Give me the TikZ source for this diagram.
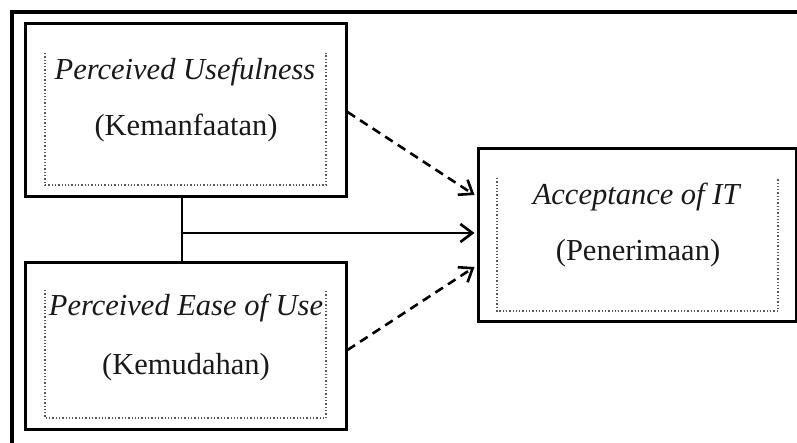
\documentclass[tikz,border=0pt]{standalone}
\usepackage{fontspec}
\setmainfont{Liberation Serif}
\usetikzlibrary{arrows.meta,calc}
\begin{document}
\begin{tikzpicture}[x=1pt,y=-1pt,
  box/.style={draw=black,line width=3pt,inner sep=0pt,anchor=center},
  inner/.style={draw=gray!70!black,dotted,line width=1.3pt},
  lbl/.style={inner sep=0pt,anchor=center,text=black!90,font=\fontsize{30.5}{36}\selectfont},
  conn/.style={line width=2.6pt},
  tip/.style={-{Straight Barb[length=12pt,width=18pt,line width=2.6pt]}},
  dsh/.style={dash pattern=on 9pt off 6pt}]
\useasboundingbox (0,0) rectangle (797,443);
% outer frame (top and left edges)
\draw[line width=3.2pt] (12,445) -- (12,12) -- (799,12);
% boxes
\node[box,minimum width=321pt,minimum height=173pt] (pu) at (185.5,110.5) {};
\node[box,minimum width=321pt,minimum height=166pt] (peou) at (185.5,346) {};
\node[box,minimum width=318pt,minimum height=172pt] (acc) at (637,235) {};
% inner dotted frames
\draw[inner] (45,53) -- (45,185) -- (326,185) -- (326,53);
\draw[inner] (45,290) -- (45,418) -- (326,418) -- (326,290);
\draw[inner] (497,178) -- (497,311) -- (778,311) -- (778,178);
% texts
\node[lbl] (puA) at (185,72) {\textit{Perceived Usefulness}};
\node[lbl] (puB) at (186,128) {(Kemanfaatan)};
\node[lbl] (peA) at (186,308) {\textit{Perceived Ease of Use}};
\node[lbl] (peB) at (186,367) {(Kemudahan)};
\node[lbl] (acA) at (637,197) {\textit{Acceptance of IT}};
\node[lbl] (acB) at (638,253) {(Penerimaan)};
% connectors
\coordinate (j) at (182,233);
\draw[conn] (pu.south -| j) -- (peou.north -| j);
\draw[conn,tip] (j) -- ([xshift=-2pt]acc.west |- j);
\draw[conn,dsh,tip] ([yshift=-1.5pt]pu.east) -- ([xshift=-2pt,yshift=40pt]acc.west);
\draw[conn,dsh,tip] ([yshift=-4pt]peou.east) -- ([xshift=-2pt,yshift=-32pt]acc.west);
\end{tikzpicture}
\end{document}
